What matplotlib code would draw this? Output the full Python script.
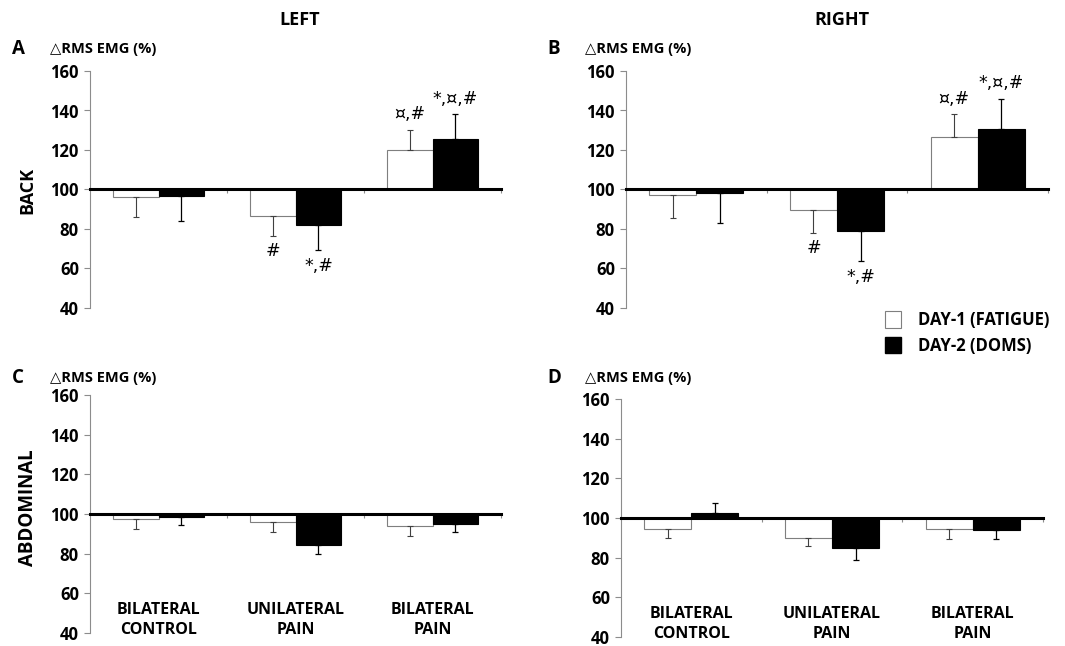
import numpy as np
import matplotlib.pyplot as plt
from matplotlib.patches import Patch

plt.rcParams['font.family'] = ['Open Sans', 'DejaVu Sans']
plt.rcParams['font.weight'] = 'bold'

categories = ['BILATERAL\nCONTROL', 'UNILATERAL\nPAIN', 'BILATERAL\nPAIN']
legend_labels = ['DAY-1 (FATIGUE)', 'DAY-2 (DOMS)']

# panel A: left back
a_day1 = [96, 86.5, 120]
a_day1_err = [10, 10, 10.3]
a_day2 = [96.8, 82, 125.5]
a_day2_err = [13, 12.8, 12.7]
a_note1 = ['', '#', '¤,#']
a_note2 = ['', '*,#', '*,¤,#']

# panel B: right back
b_day1 = [97, 89.6, 126.5]
b_day1_err = [11.2, 11.4, 11.5]
b_day2 = [98.3, 79, 130.8]
b_day2_err = [15.5, 15.4, 15.2]
b_note1 = ['', '#', '¤,#']
b_note2 = ['', '*,#', '*,¤,#']

# panel C: left abdominal
c_day1 = [97.5, 96, 93.8]
c_day1_err = [5, 5, 4.8]
c_day2 = [98.6, 84.2, 94.8]
c_day2_err = [4.2, 4.2, 4]

# panel D: right abdominal
d_day1 = [94.4, 89.9, 94.4]
d_day1_err = [4.7, 4.2, 4.8]
d_day2 = [102.5, 84.7, 94]
d_day2_err = [5.1, 5.7, 4.7]

W, H = 1065, 646
fig = plt.figure(figsize=(W / 100, H / 100), dpi=100)


def px_axes(x0, x1, ytop, ybot):
    return fig.add_axes([x0 / W, 1 - ybot / H, (x1 - x0) / W, (ybot - ytop) / H])


def one_sided(vals, errs):
    # error bars only point away from the 100 line
    vals = np.asarray(vals)
    errs = np.asarray(errs)
    lo = np.where(vals < 100, errs, 0)
    up = np.where(vals >= 100, errs, 0)
    return [lo, up]


def draw_panel(ax, day1, err1, day2, err2, note1=None, note2=None, cat_labels=False):
    x = np.arange(len(day1))
    w = 0.335
    ax.bar(x - w / 2, np.array(day1) - 100, w, bottom=100, color='white',
           edgecolor='#7f7f7f', linewidth=0.8, zorder=2)
    ax.bar(x + w / 2, np.array(day2) - 100, w, bottom=100, color='black',
           edgecolor='black', linewidth=0.8, zorder=2)
    ax.errorbar(x - w / 2, day1, yerr=one_sided(day1, err1), fmt='none',
                ecolor='#404040', elinewidth=0.8, capsize=2, capthick=0.8, zorder=3)
    ax.errorbar(x + w / 2, day2, yerr=one_sided(day2, err2), fmt='none',
                ecolor='black', elinewidth=0.9, capsize=2, capthick=0.9, zorder=3)

    for notes, vals, errs, dx in [(note1, day1, err1, -w / 2), (note2, day2, err2, w / 2)]:
        if notes is None:
            continue
        for i, s in enumerate(notes):
            if not s:
                continue
            sign = 1 if vals[i] >= 100 else -1
            end = vals[i] + sign * errs[i]
            ax.annotate(s, (i + dx, end), xytext=(0, sign * 11), textcoords='offset points',
                        ha='center', va='center', fontsize=12.5, fontweight='normal',
                        family='DejaVu Sans')

    if cat_labels:
        for i, lab in enumerate(categories):
            ax.text(i, 46.7, lab, ha='center', va='center', fontsize=11.5,
                    fontweight='bold', linespacing=1.35)

    ax.set_xlim(-0.5, 2.5)
    ax.set_ylim(40, 160)
    ax.set_yticks(np.arange(40, 161, 20))
    ax.spines['top'].set_visible(False)
    ax.spines['right'].set_visible(False)
    ax.spines['left'].set_color('#8c8c8c')
    ax.spines['left'].set_linewidth(0.8)
    ax.spines['bottom'].set_position(('data', 100))
    ax.spines['bottom'].set_linewidth(2.2)
    ax.spines['bottom'].set_color('black')
    ax.spines['bottom'].set_zorder(4)
    ax.set_xticks([0.5, 1.5, 2.5])
    ax.tick_params(axis='x', labelbottom=False, length=3, color='#8c8c8c', width=0.8)
    ax.tick_params(axis='y', length=4, color='#8c8c8c', width=0.8, labelsize=12, pad=4)
    for t in ax.get_yticklabels():
        t.set_fontweight('bold')


ax_a = px_axes(90, 501, 71, 308)
ax_b = px_axes(626, 1048, 71, 308)
ax_c = px_axes(90, 501, 395, 633)
ax_d = px_axes(621, 1043, 399, 637)

draw_panel(ax_a, a_day1, a_day1_err, a_day2, a_day2_err, a_note1, a_note2)
draw_panel(ax_b, b_day1, b_day1_err, b_day2, b_day2_err, b_note1, b_note2)
draw_panel(ax_c, c_day1, c_day1_err, c_day2, c_day2_err, cat_labels=True)
draw_panel(ax_d, d_day1, d_day1_err, d_day2, d_day2_err, cat_labels=True)

# column titles, panel letters, row labels
fig.text(300 / W, 1 - 20 / H, 'LEFT', ha='center', va='center', fontsize=13, fontweight='bold')
fig.text(842 / W, 1 - 20 / H, 'RIGHT', ha='center', va='center', fontsize=13, fontweight='bold')
for letter, lx, ly, tx in [('A', 18, 49, 50), ('B', 554, 49, 585), ('C', 18, 378, 50), ('D', 554, 378, 585)]:
    fig.text(lx / W, 1 - ly / H, letter, ha='center', va='center', fontsize=13.5, fontweight='bold')
    fig.text(tx / W, 1 - ly / H, '△RMS EMG (%)', ha='left', va='center', fontsize=10.5,
             fontweight='bold')
fig.text(27 / W, 1 - 190 / H, 'BACK', rotation=90, ha='center', va='center',
         fontsize=13, fontweight='bold')
fig.text(28 / W, 1 - 508 / H, 'ABDOMINAL', rotation=90, ha='center', va='center',
         fontsize=13.5, fontweight='bold')

handles = [Patch(facecolor='white', edgecolor='#7f7f7f', linewidth=0.8),
           Patch(facecolor='black', edgecolor='black')]
fig.legend(handles, legend_labels, loc='upper left', bbox_to_anchor=(885 / W, 1 - 311 / H),
           frameon=False, handlelength=0.95, handleheight=1.15,
           handletextpad=1.05, labelspacing=0.45, borderpad=0, borderaxespad=0,
           prop={'weight': 'bold', 'size': 12})

fig.savefig('out.png', dpi=100)
